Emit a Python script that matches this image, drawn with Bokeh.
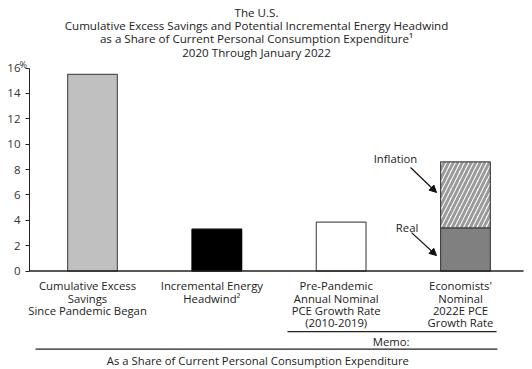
from bokeh.plotting import figure
from bokeh.models import Range1d, LinearAxis, FixedTicker, Arrow, NormalHead
from bokeh.core.properties import value
from bokeh.embed import file_html
from bokeh.resources import INLINE

# ---- data ----
title_lines = [
    "The U.S.",
    "Cumulative Excess Savings and Potential Incremental Energy Headwind",
    "as a Share of Current Personal Consumption Expenditure\u00b9",
    "2020 Through January 2022",
]
category_lines = [
    ["Cumulative Excess", "Savings", "Since Pandemic Began"],
    ["Incremental Energy", "Headwind\u00b2"],
    ["Pre-Pandemic", "Annual Nominal", "PCE Growth Rate", "(2010-2019)"],
    ["Economists'", "Nominal", "2022E PCE", "Growth Rate"],
]
single_values = [15.5, 3.3, 3.85]          # first three bars (%)
real_growth = [3.4]                         # 2022E real PCE growth (%)
inflation_growth = [5.2]                    # 2022E inflation component (%)
y_ticks = [0, 2, 4, 6, 8, 10, 12, 14, 16]
footer_text = "As a Share of Current Personal Consumption Expenditure"
memo_text = "Memo:"

# ---- styling ----
FONT = value("Open Sans")
TXT = "#222222"
single_fill = ["#c0c0c0", "#000000", "#ffffff"]
single_line = ["#555555", "#000000", "#555555"]
W = 0.4
positions = list(range(len(category_lines)))
AXIS_X = -0.507
X0, X1 = -0.740, 3.539

p = figure(width=532, height=369,
           x_range=Range1d(X0, X1), y_range=Range1d(-7.76, 21.32),
           output_backend="svg", toolbar_location=None,
           x_axis_location=None, y_axis_location=None,
           min_border_left=0, min_border_right=0,
           min_border_top=0, min_border_bottom=0)
p.outline_line_color = None
p.grid.visible = False

yax = LinearAxis(ticker=FixedTicker(ticks=y_ticks), bounds=(0, 16),
                 fixed_location=AXIS_X)
yax.axis_line_color = TXT
yax.major_tick_line_color = TXT
yax.major_tick_out = 4
yax.major_tick_in = 0
yax.minor_tick_line_color = None
yax.major_label_standoff = 5
yax.major_label_text_font = "Open Sans"
yax.major_label_text_font_size = "11.5px"
yax.major_label_text_color = "#333333"
p.add_layout(yax, "left")

# bars
p.vbar(x=positions[:3], top=single_values, width=W,
       fill_color=single_fill, line_color=single_line, line_width=1.2)
p.vbar(x=positions[3:], bottom=0, top=real_growth, width=W,
       fill_color="#808080", line_color="#444444", line_width=1.2)
total = [r + i for r, i in zip(real_growth, inflation_growth)]
p.vbar(x=positions[3:], bottom=real_growth, top=total, width=W,
       fill_color="white", hatch_pattern="/", hatch_color="#9a9a9a",
       hatch_weight=3, hatch_scale=9, line_color="#444444", line_width=1.2)

# baseline
p.segment(x0=[AXIS_X], y0=[0], x1=[3.467], y1=[0], line_color=TXT, line_width=1.6)

# title
title_x = 1.319
title_y = [20.39, 19.34, 18.30, 17.24]
p.text(x=[title_x] * len(title_lines), y=title_y, text=title_lines,
       text_font=FONT, text_font_size="11.6px", text_align="center",
       text_baseline="middle", text_color=TXT)

# percent sign beside the top tick
p.text(x=[-0.588], y=[16.3], text=["%"], text_font=FONT, text_font_size="9px",
       text_align="left", text_baseline="middle", text_color="#333333")

# category labels
line_y = [-1.14, -2.19, -3.11, -4.03]
xs, ys, ts = [], [], []
for pos, lines in zip(positions, category_lines):
    for k, t in enumerate(lines):
        xs.append(pos - 0.04)
        ys.append(line_y[k])
        ts.append(t)
p.text(x=xs, y=ys, text=ts, text_font=FONT, text_font_size="11.3px",
       text_align="center", text_baseline="middle", text_color=TXT)

# memo bracket + footer
p.segment(x0=[1.568, -0.458], y0=[-4.77, -6.16], x1=[3.25, 3.257], y1=[-4.77, -6.16],
          line_color=TXT, line_width=1.2)
p.text(x=[2.55], y=[-5.56], text=[memo_text], text_font=FONT, text_font_size="11.3px",
       text_align="right", text_baseline="middle", text_color=TXT)
p.text(x=[1.33], y=[-7.05], text=[footer_text], text_font=FONT, text_font_size="11.3px",
       text_align="center", text_baseline="middle", text_color=TXT)

# annotations
bar_left = positions[3] - W / 2
p.text(x=[2.437, 2.53], y=[8.87, 3.43], text=["Inflation", "Real"], text_font=FONT,
       text_font_size="11.3px", text_align="center", text_baseline="middle", text_color=TXT)
for xs0, ys0, ye in [(2.558, 8.16, 6.19), (2.566, 3.03, 1.22)]:
    p.add_layout(Arrow(end=NormalHead(size=7, fill_color="#111111", line_color="#111111"),
                       x_start=xs0, y_start=ys0, x_end=bar_left - 0.033, y_end=ye,
                       line_color="#111111", line_width=1.2))

open("out.html", "w").write(file_html(p, INLINE))
